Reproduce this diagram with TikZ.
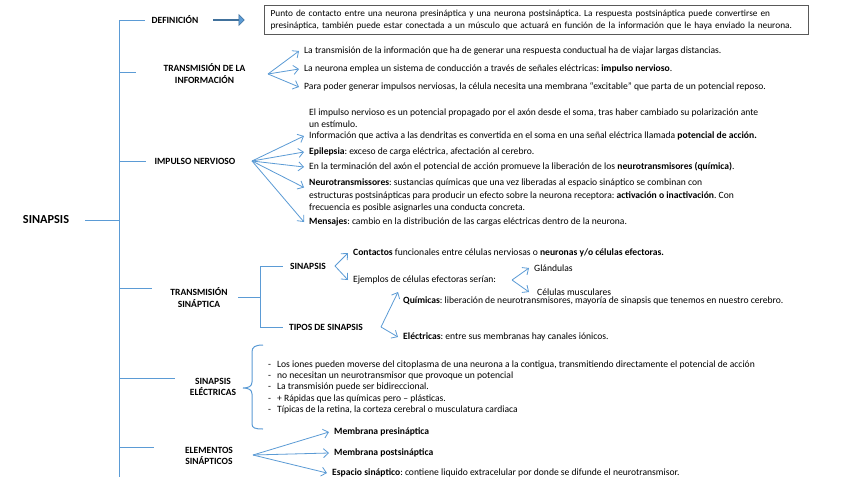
\documentclass[tikz,border=0pt]{standalone}
\usepackage{fontspec}
\setmainfont{Carlito}
\usetikzlibrary{arrows.meta,shapes.arrows}
\definecolor{lblue}{HTML}{5B9BD5}
\definecolor{dblue}{HTML}{41719C}
\definecolor{boxgray}{HTML}{595959}
\frenchspacing
\begin{document}
\begin{tikzpicture}[x=1pt,y=-1pt,
 br/.style={draw=lblue,line width=1pt},
 arr/.style={draw=lblue,line width=0.8pt,-{Straight Barb[length=5pt,width=9pt]}},
 lab/.style={font=\fontsize{9.5}{11.5}\selectfont\bfseries,align=center,inner sep=0pt},
 txt/.style={font=\fontsize{9.6}{12.4}\selectfont,align=left,anchor=west,inner xsep=5pt,inner ysep=0pt},
]
\useasboundingbox (0,0) rectangle (848,477);
\fill[white] (0,0) rectangle (848,477);

% main bracket
\coordinate (mtop) at (119,20);
\coordinate (mbot) at (119,477);
\draw[br] (mtop) -- (mbot);
\node[font=\fontsize{12.3}{14}\selectfont\bfseries,inner sep=0pt] (root) at (46,220) {SINAPSIS};
\coordinate (rootend) at (85,220);
\draw[br] (rootend) -- (119,220);

% branches
\draw[br] (mtop) -- (145,20);
\draw[br] (119,72) -- (136,72);
\draw[br] (119,161) -- (146,161);
\draw[br] (119,288) -- (152,288);
\draw[br] (119,378) -- (175,378);
\draw[br] (119,447) -- (154,447);

% labels
\node[lab] (def) at (175,20) {DEFINICIÓN};
\node[lab] (tinf) at (204.5,73.5) {TRANSMISIÓN DE LA\\INFORMACIÓN};
\node[lab] (imp) at (195,161) {IMPULSO NERVIOSO};
\node[lab] (tsin) at (199,297.5) {TRANSMISIÓN\\SINÁPTICA};
\node[lab] (sel) at (213,387) {SINAPSIS\\ELÉCTRICAS};
\node[lab] (elem) at (209,456) {ELEMENTOS\\SINÁPTICOS};

% definition
\node[single arrow, fill=lblue, draw=dblue, line width=0.6pt, minimum height=31pt, minimum width=11pt, single arrow head extend=3pt, inner sep=0pt, anchor=west] (barrow) at (213,20) {};
\node[draw=boxgray, line width=1.2pt, anchor=north west, text width=532pt, minimum height=29pt, inner xsep=6pt, inner ysep=2.5pt, align=left, font=\fontsize{9.3}{12}\selectfont] (defbox) at (264,5) {Punto de contacto entre una neurona presináptica y una neurona postsináptica. La respuesta postsináptica puede convertirse en\\presináptica, también puede estar conectada a un músculo que actuará en función de la información que le haya enviado la neurona.};

% transmision de la informacion
\coordinate (f1) at (268,74);
\node[txt] (a1) at (299,51) {La transmisión de la información que ha de generar una respuesta conductual ha de viajar largas distancias.};
\node[txt] (a2) at (299,69) {La neurona emplea un sistema de conducción a través de señales eléctricas: \textbf{impulso nervioso}.};
\node[txt] (a3) at (299,87) {Para poder generar impulsos nerviosas, la célula necesita una membrana “excitable” que parta de un potencial reposo.};
\draw[arr] (f1) -- (a1.west);
\draw[arr] (f1) -- (a2.west);
\draw[arr] (f1) -- (a3.west);

% impulso nervioso
\coordinate (f2) at (252,161);
\node[txt] (b0) at (304,118.5) {El impulso nervioso es un potencial propagado por el axón desde el soma, tras haber cambiado su polarización ante\\un estímulo.};
\node[txt] (b1) at (304,136) {Información que activa a las dendritas es convertida en el soma en una señal eléctrica llamada \textbf{potencial de acción.}};
\node[txt] (b2) at (304,152) {\textbf{Epilepsia}: exceso de carga eléctrica, afectación al cerebro.};
\node[txt] (b3) at (304,167) {En la terminación del axón el potencial de acción promueve la liberación de los \textbf{neurotransmisores (química)}.};
\node[txt] (b4) at (304,195.5) {\textbf{Neurotransmissores}: sustancias químicas que una vez liberadas al espacio sináptico se combinan con\\estructuras postsinápticas para producir un efecto sobre la neurona receptora: \textbf{activación o inactivación}. Con\\frecuencia es posible asignarles una conducta concreta.};
\node[txt] (b5) at (304,222) {\textbf{Mensajes}: cambio en la distribución de las cargas eléctricas dentro de la neurona.};
\draw[arr] (f2) -- (b1.west);
\draw[arr] (f2) -- (b2.west);
\draw[arr] (f2) -- (b3.west);
\draw[arr] (f2) -- ([yshift=8pt]b4.west);
\draw[arr] (f2) -- (b5.west);

% transmision sinaptica
\coordinate (s0) at (238,297);
\coordinate (s1) at (260,297);
\coordinate (stop) at (260,266);
\coordinate (sbot) at (260,327);
\draw[br] (s0) -- (s1);
\draw[br] (stop) -- (sbot);
\draw[br] (stop) -- (283,266);
\draw[br] (sbot) -- (283,327);
\node[lab] (sin) at (308,266) {SINAPSIS};
\node[lab] (tipos) at (326,327) {TIPOS DE SINAPSIS};
\coordinate (f3) at (335,266);
\node[txt] (c1) at (348,253) {\textbf{Contactos} funcionales entre células nerviosas o \textbf{neuronas y/o células efectoras.}};
\node[txt] (c2) at (348,280) {Ejemplos de células efectoras serían:};
\draw[arr] (f3) -- (c1.west);
\draw[arr] (f3) -- (c2.west);
\coordinate (f4) at (512,280);
\node[txt] (g1) at (529,268) {Glándulas};
\node[txt] (g2) at (532,292) {Células musculares};
\draw[arr] (f4) -- (g1.west);
\draw[arr] (f4) -- ([xshift=-3pt]g2.west);
\coordinate (f5) at (381,327);
\node[txt] (d1) at (398,301) {\textbf{Químicas}: liberación de neurotransmisores, mayoría de sinapsis que tenemos en nuestro cerebro.};
\node[txt] (d2) at (398,337) {\textbf{Eléctricas}: entre sus membranas hay canales iónicos.};
\draw[arr] (f5) -- ([yshift=9pt]d1.west);
\draw[arr] (f5) -- (d2.west);

% sinapsis electricas brace
\draw[br] (263,345) .. controls (255,345) and (252,347) .. (252,352) -- (252,382) .. controls (252,386) and (249,388) .. (243,388) .. controls (249,388) and (252,390) .. (252,394) -- (252,424) .. controls (252,428) and (255,429) .. (263,429);
\node[anchor=west, inner sep=0pt, font=\fontsize{9.6}{11.3}\selectfont] (list) at (268,387.5) {\begin{tabular}{@{}l@{\hspace{6pt}}l@{}}
-&Los iones pueden moverse del citoplasma de una neurona a la contigua, transmitiendo directamente el potencial de acción\\
-&no necesitan un neurotransmisor que provoque un potencial\\
-&La transmisión puede ser bidireccional.\\
-&+ Rápidas que las químicas pero – plásticas.\\
-&Típicas de la retina, la corteza cerebral o musculatura cardiaca
\end{tabular}};

% elementos sinapticos
\coordinate (f6) at (253,455);
\node[txt] (e1) at (329,432) {\textbf{Membrana presináptica}};
\node[txt] (e2) at (329,453) {\textbf{Membrana postsináptica}};
\node[txt] (e3) at (327,473) {\textbf{Espacio sináptico}: contiene liquido extracelular por donde se difunde el neurotransmisor.};
\draw[arr] (f6) -- (e1.west);
\draw[arr] (f6) -- (e2.west);
\draw[arr] (f6) -- (e3.west);
\end{tikzpicture}
\end{document}
